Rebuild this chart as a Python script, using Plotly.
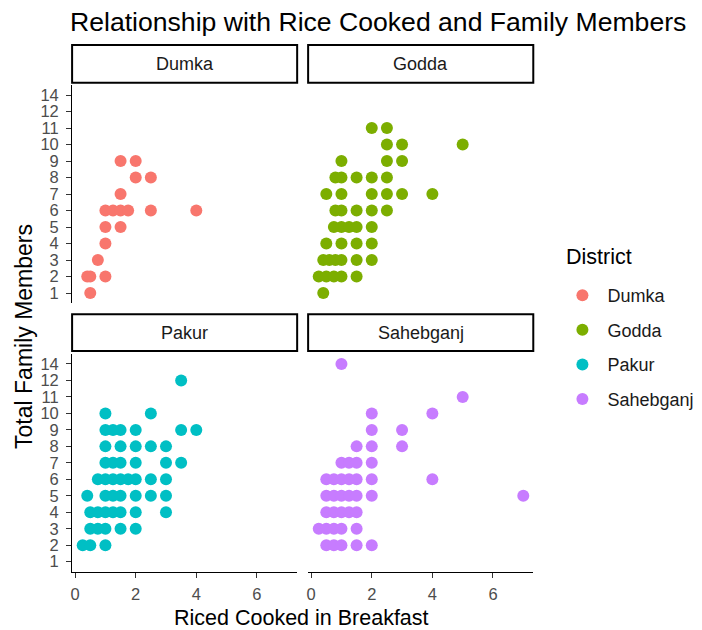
import plotly.graph_objects as go

W, H = 702, 630

districts = ["Dumka", "Godda", "Pakur", "Sahebganj"]
colors = ["#F8766D", "#7CAE00", "#00BFC4", "#C77CFF"]

# Family-size levels present in the survey (no household of 13)
member_levels = ["1", "2", "3", "4", "5", "6", "7", "8", "9", "10", "11", "12", "14"]
x_ticks = [0, 2, 4, 6]

dumka_rice = [1.5, 2, 2, 2.5, 1.5, 1, 1.25, 1.5, 1.75, 2.5, 4, 1, 1.5, 1, 0.75, 0.4, 0.5, 1, 0.5]
dumka_members = [9, 9, 8, 8, 7, 6, 6, 6, 6, 6, 6, 5, 5, 4, 3, 2, 2, 2, 1]

godda_rice = [2, 2.5,
              2.5, 3, 5,
              1, 2.5, 3,
              0.8, 1, 1.5, 2, 2.5,
              0.5, 1, 2, 2.5, 3, 4,
              0.8, 1, 1.5, 2, 2.5,
              0.75, 1, 1.25, 1.5, 2,
              0.5, 1, 1.5, 2,
              0.4, 0.6, 0.8, 1, 1.5, 2,
              0.25, 0.5, 0.75, 1, 1.5,
              0.4]
godda_members = [11, 11,
                 10, 10, 10,
                 9, 9, 9,
                 8, 8, 8, 8, 8,
                 7, 7, 7, 7, 7, 7,
                 6, 6, 6, 6, 6,
                 5, 5, 5, 5, 5,
                 4, 4, 4, 4,
                 3, 3, 3, 3, 3, 3,
                 2, 2, 2, 2, 2,
                 1]

pakur_rice = [3.5,
              1, 2.5,
              1, 1.25, 1.5, 2, 3.5, 4,
              1, 1.5, 2, 2.5, 3,
              1, 1.25, 1.5, 2, 3, 3.5,
              0.75, 1, 1.25, 1.5, 1.75, 2, 2.5, 3,
              0.4, 1, 1.25, 1.5, 2, 2.5, 3,
              0.5, 0.75, 1, 1.25, 1.5, 2, 3,
              0.5, 0.75, 1, 1.5, 2,
              0.25, 0.5, 1]
pakur_members = [12,
                 10, 10,
                 9, 9, 9, 9, 9, 9,
                 8, 8, 8, 8, 8,
                 7, 7, 7, 7, 7, 7,
                 6, 6, 6, 6, 6, 6, 6, 6,
                 5, 5, 5, 5, 5, 5, 5,
                 4, 4, 4, 4, 4, 4, 4,
                 3, 3, 3, 3, 3,
                 2, 2, 2]

sahebganj_rice = [1,
                  5,
                  2, 4,
                  2, 3,
                  1.5, 2, 3,
                  1, 1.25, 1.5, 2,
                  0.5, 0.75, 1, 1.25, 1.5, 2, 4,
                  0.5, 0.75, 1, 1.25, 1.5, 2, 7,
                  0.5, 0.75, 1, 1.25, 1.5,
                  0.25, 0.5, 0.75, 1, 1.5,
                  0.5, 0.75, 1, 1.5, 2]
sahebganj_members = [14,
                     11,
                     10, 10,
                     9, 9,
                     8, 8, 8,
                     7, 7, 7, 7,
                     6, 6, 6, 6, 6, 6, 6,
                     5, 5, 5, 5, 5, 5, 5,
                     4, 4, 4, 4, 4,
                     3, 3, 3, 3, 3,
                     2, 2, 2, 2, 2]

rice_data = [dumka_rice, godda_rice, pakur_rice, sahebganj_rice]
member_data = [dumka_members, godda_members, pakur_members, sahebganj_members]

FONT = "Liberation Sans, Arial, sans-serif"


def fx(px):
    return px / W


def fy(py):
    return 1 - py / H


# panel boxes in pixels: (left, right, top, bottom)
col_x = [(70.3, 296.0), (307.0, 532.8)]
row_y = [(85.1, 302.9), (354.1, 571.6)]
strip_y = [(45.0, 82.7), (314.3, 351.0)]

fig = go.Figure()
layout_axes = {}

for i, name in enumerate(districts):
    r, c = divmod(i, 2)
    n = i + 1
    xa = "x" if n == 1 else f"x{n}"
    ya = "y" if n == 1 else f"y{n}"
    fig.add_trace(go.Scatter(
        x=rice_data[i],
        y=[str(v) for v in member_data[i]],
        mode="markers",
        name=name,
        legendgroup=name,
        marker=dict(color=colors[i], size=12, line=dict(width=0)),
        xaxis=xa, yaxis=ya,
        hoverinfo="skip",
    ))

    bottom = r == 1
    left = c == 0
    layout_axes[f"xaxis{'' if n == 1 else n}"] = dict(
        domain=[fx(col_x[c][0]), fx(col_x[c][1])],
        anchor=ya,
        range=[-0.1, 7.33],
        tickmode="array", tickvals=x_ticks, ticktext=[str(t) for t in x_ticks],
        showline=bottom, linecolor="black", linewidth=1.1,
        ticks="outside" if bottom else "", ticklen=5, tickwidth=1.1, tickcolor="#333333",
        showticklabels=bottom, ticklabelstandoff=3,
        tickfont=dict(size=16.5, color="#4D4D4D", family=FONT),
        showgrid=False, zeroline=False, fixedrange=True,
    )
    layout_axes[f"yaxis{'' if n == 1 else n}"] = dict(
        domain=[fy(row_y[r][1]), fy(row_y[r][0])],
        anchor=xa,
        type="category", categoryorder="array", categoryarray=member_levels,
        range=[-0.6, 12.6],
        tickmode="array", tickvals=member_levels, ticktext=member_levels,
        showline=left, linecolor="black", linewidth=1.1,
        ticks="outside" if left else "", ticklen=5, tickwidth=1.1, tickcolor="#333333",
        showticklabels=left, ticklabelstandoff=4,
        tickfont=dict(size=16.5, color="#4D4D4D", family=FONT),
        showgrid=False, zeroline=False, fixedrange=True,
    )

shapes = []
annotations = []

# facet strips
for i, name in enumerate(districts):
    r, c = divmod(i, 2)
    x0, x1 = col_x[c]
    y0, y1 = strip_y[r]
    shapes.append(dict(
        type="rect", xref="paper", yref="paper",
        x0=fx(x0), x1=fx(x1), y0=fy(y1), y1=fy(y0),
        line=dict(color="black", width=2), fillcolor="white", layer="above",
    ))
    annotations.append(dict(
        text=name, xref="paper", yref="paper",
        x=fx((x0 + x1) / 2), y=fy((y0 + y1) / 2),
        xanchor="center", yanchor="middle", showarrow=False,
        font=dict(size=18, color="#1A1A1A", family=FONT),
    ))

# title, axis titles and legend heading
annotations.append(dict(
    text="Relationship with Rice Cooked and Family Members",
    xref="paper", yref="paper", x=fx(66), y=fy(22),
    xanchor="left", yanchor="middle", showarrow=False,
    font=dict(size=26.6, color="black", family=FONT),
))
annotations.append(dict(
    text="Riced Cooked in Breakfast",
    xref="paper", yref="paper", x=fx(300.5), y=fy(618),
    xanchor="center", yanchor="middle", showarrow=False,
    font=dict(size=21.5, color="black", family=FONT),
))
annotations.append(dict(
    text="Total Family Members",
    xref="paper", yref="paper", x=fx(22), y=fy(336),
    xanchor="center", yanchor="middle", showarrow=False, textangle=-90,
    font=dict(size=23, color="black", family=FONT),
))
annotations.append(dict(
    text="District",
    xref="paper", yref="paper", x=fx(564), y=fy(257),
    xanchor="left", yanchor="middle", showarrow=False,
    font=dict(size=21.5, color="black", family=FONT),
))

fig.update_layout(
    width=W, height=H,
    margin=dict(l=0, r=0, t=0, b=0),
    paper_bgcolor="white", plot_bgcolor="white",
    font=dict(family=FONT),
    shapes=shapes,
    annotations=annotations,
    showlegend=True,
    legend=dict(
        font=dict(size=18, color="#1A1A1A", family=FONT),
        x=fx(557), y=fy(277), xanchor="left", yanchor="top",
        tracegroupgap=8.2, itemsizing="trace", itemwidth=40,
        bgcolor="rgba(0,0,0,0)",
    ),
    **layout_axes,
)

fig.write_html("out.html")
